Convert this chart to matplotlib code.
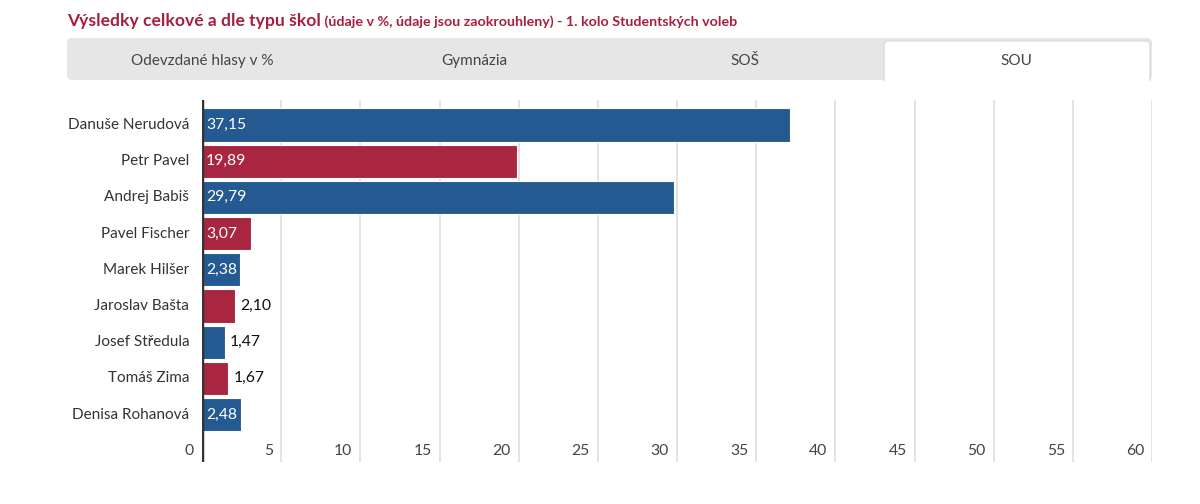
import matplotlib
matplotlib.use("Agg")
import matplotlib.pyplot as plt
from matplotlib.patches import Rectangle, FancyBboxPatch

candidates = ["Danuše Nerudová", "Petr Pavel", "Andrej Babiš", "Pavel Fischer", "Marek Hilšer",
              "Jaroslav Bašta", "Josef Středula", "Tomáš Zima", "Denisa Rohanová"]
values = [37.15, 19.89, 29.79, 3.07, 2.38, 2.10, 1.47, 1.67, 2.48]
value_labels = ["37,15", "19,89", "29,79", "3,07", "2,38", "2,10", "1,47", "1,67", "2,48"]
x_ticks = [0, 5, 10, 15, 20, 25, 30, 35, 40, 45, 50, 55, 60]
tabs = ["Odevzdané hlasy v %", "Gymnázia", "SOŠ", "SOU"]
title_main = "Výsledky celkové a dle typu škol"
title_sub = " (údaje v %, údaje jsou zaokrouhleny) - 1. kolo Studentských voleb"

BLUE = "#245a91"
RED = "#a82640"
TITLE_C = "#a6203e"
FONT = ["Lato", "DejaVu Sans"]
plt.rcParams["font.family"] = FONT

W, H = 1200, 504
fig = plt.figure(figsize=(W / 100, H / 100), dpi=100)

# main axes: x from px 202 to 1152, y from px 100 to 462
ax = fig.add_axes([202 / W, 1 - 462 / H, (1152 - 202) / W, (462 - 100) / H])
n = len(candidates)
ypos = list(range(n))
colors = [BLUE if i % 2 == 0 else RED for i in range(n)]
ax.barh(ypos, values, height=0.92, color=colors, edgecolor="white", linewidth=0.8, zorder=3)
ax.set_xlim(0, 60)
ax.set_ylim(9.31, -0.69)
for t in x_ticks[1:]:
    ax.axvline(t, color="#dddddd", linewidth=1.2, zorder=1)
ax.axvline(0, color="#333333", linewidth=2.5, zorder=4)
for s in ax.spines.values():
    s.set_visible(False)
ax.set_xticks([])
ax.set_yticks([])

for i, (v, lab) in enumerate(zip(values, value_labels)):
    if v >= 2.3:
        ax.text(0.25, i, lab, ha="left", va="center", color="white", fontsize=11.3, zorder=5)
    else:
        ax.text(v + 0.3, i, lab, ha="left", va="center", color="#111111", fontsize=11.3, zorder=5)
    ax.text(-0.8, i, candidates[i], ha="right", va="center", color="#333333", fontsize=11,
            clip_on=False)

for t in x_ticks:
    ax.text(t - 0.5, 9.0, str(t), ha="right", va="center", color="#444444", fontsize=11.3,
            clip_on=False)

# overlay for title and tabs in pixel coordinates
ov = fig.add_axes([0, 0, 1, 1], zorder=-1)
ov.set_xlim(0, W)
ov.set_ylim(H, 0)
ov.axis("off")
ov.add_patch(FancyBboxPatch((67, 38), 1152 - 67, 42, boxstyle="round,pad=0,rounding_size=5",
                            facecolor="#e6e6e6", edgecolor="none"))
ov.add_patch(FancyBboxPatch((884, 41), 1150 - 884, 42, boxstyle="round,pad=0,rounding_size=4",
                            facecolor="white", edgecolor="#dcdcdc", linewidth=1.0))
ov.add_patch(Rectangle((880, 81), 275, 6, facecolor="white", edgecolor="none"))
tab_w = (1152 - 67) / len(tabs)
for i, tname in enumerate(tabs):
    ov.text(67 + tab_w * (i + 0.5), 61, tname, ha="center", va="center", color="#444444",
            fontsize=11)

t1 = ov.text(67, 21, title_main, ha="left", va="center", color=TITLE_C, fontsize=12.6,
             fontweight="bold")
fig.canvas.draw()
bb = t1.get_window_extent(renderer=fig.canvas.get_renderer())
x_end = bb.x1  # pixels from left
ov.text(x_end, 22, title_sub, ha="left", va="center", color=TITLE_C, fontsize=10.3,
        fontweight="bold")

fig.savefig("out.png", dpi=100)
